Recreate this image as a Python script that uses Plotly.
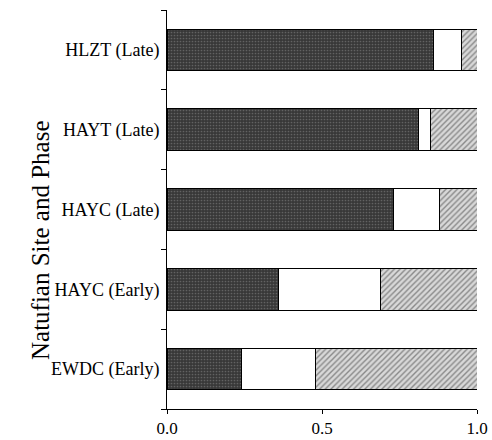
import plotly.graph_objects as go

categories = ["EWDC (Early)", "HAYC (Early)", "HAYC (Late)", "HAYT (Late)", "HLZT (Late)"]
dark_share = [0.24, 0.36, 0.73, 0.81, 0.86]
white_share = [0.24, 0.33, 0.15, 0.04, 0.09]
hatched_share = [0.52, 0.31, 0.12, 0.15, 0.05]
x_ticks = [0.0, 0.5, 1.0]
x_ticklabels = ["0.0", "0.5", "1.0"]

FONT = "Liberation Serif, Times New Roman, serif"

fig = go.Figure()
fig.add_trace(go.Bar(
    y=categories, x=dark_share, orientation="h", name="dark",
    marker=dict(color="#383838", line=dict(color="black", width=1),
                pattern=dict(shape=".", fgcolor="#8c8c8c", size=3, solidity=0.25)),
))
fig.add_trace(go.Bar(
    y=categories, x=white_share, orientation="h", name="white",
    marker=dict(color="white", line=dict(color="black", width=1)),
))
fig.add_trace(go.Bar(
    y=categories, x=hatched_share, orientation="h", name="hatched",
    marker=dict(color="#d8d8d8", line=dict(color="black", width=1),
                pattern=dict(shape="/", fgcolor="#3a3a3a", bgcolor="#d8d8d8", size=4, solidity=0.35)),
))

L, R, T, B = 167, 15, 10, 31
W, H = 492, 440

fig.update_layout(
    barmode="stack", bargap=0.48, showlegend=False,
    width=W, height=H,
    margin=dict(l=L, r=R, t=T, b=B, pad=0),
    plot_bgcolor="white", paper_bgcolor="white",
    font=dict(family=FONT, size=18, color="black"),
)
fig.update_xaxes(
    range=[0, 1.0], tickvals=x_ticks, ticktext=x_ticklabels, automargin=False,
    showline=True, linecolor="black", linewidth=1, mirror=False,
    ticks="outside", ticklen=4, tickcolor="black", showgrid=False, zeroline=False,
    ticklabelstandoff=0, tickfont=dict(size=17),
)
fig.update_yaxes(
    type="category", categoryorder="array", categoryarray=categories,
    range=[-0.5, 4.5], tickson="boundaries", automargin=False,
    showline=True, linecolor="black", linewidth=1,
    ticks="outside", ticklen=5, tickcolor="black", showgrid=False, zeroline=False,
    ticklabelstandoff=3, tickfont=dict(size=18),
)
pw = W - L - R
ph = H - T - B
fig.add_annotation(
    text="Natufian Site and Phase", textangle=-90,
    xref="paper", yref="paper",
    x=(40 - L) / pw, y=(H - B - 240) / ph,
    xanchor="center", yanchor="middle", showarrow=False,
    font=dict(family=FONT, size=25, color="black"),
)
fig.write_html("out.html")
